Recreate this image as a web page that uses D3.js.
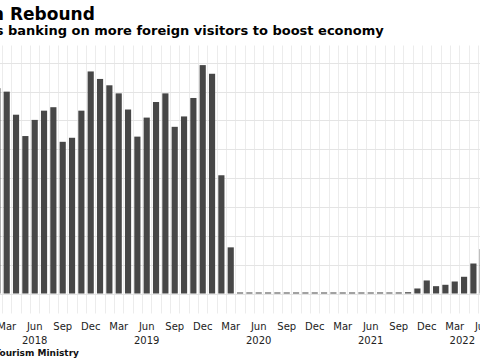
<!DOCTYPE html>
<html><head><meta charset="utf-8">
<script src="https://cdn.jsdelivr.net/npm/d3@7"></script>
<style>body{margin:0;background:#fff;overflow:hidden}svg{display:block}</style>
</head><body>
<svg id="c" width="480" height="360"></svg>
<script>
// ---- data (foreign visitor arrivals, millions) ----
const months = [
  "2018-02","2018-03","2018-04","2018-05","2018-06","2018-07","2018-08","2018-09","2018-10","2018-11","2018-12",
  "2019-01","2019-02","2019-03","2019-04","2019-05","2019-06","2019-07","2019-08","2019-09","2019-10","2019-11","2019-12",
  "2020-01","2020-02","2020-03","2020-04","2020-05","2020-06","2020-07","2020-08","2020-09","2020-10","2020-11","2020-12",
  "2021-01","2021-02","2021-03","2021-04","2021-05","2021-06","2021-07","2021-08","2021-09","2021-10","2021-11","2021-12",
  "2022-01","2022-02","2022-03","2022-04","2022-05","2022-06"
];
const visitors = [
  3.56,3.50,3.10,2.73,3.01,3.17,3.23,2.63,2.70,3.17,3.85,
  3.72,3.61,3.47,3.19,2.72,3.05,3.32,3.47,2.89,3.07,3.39,3.96,
  3.81,2.05,0.80,0,0,0,0,0,0,0.001,0.001,0.007,
  0.008,0.007,0.013,0.007,0.007,0.006,0.018,0.016,0.018,0.022,0.087,0.226,
  0.127,0.151,0.208,0.29,0.52,0.77
];
const monthTickNames = {"03":"Mar","06":"Jun","09":"Sep","12":"Dec"};
const yearLabels = ["2018","2019","2020","2021","2022"];
const yTicks = [0,0.5,1,1.5,2,2.5,3,3.5,4];
const titleText = "Tourism Rebound";
const subtitleText = "is banking on more foreign visitors to boost economy";
const sourceText = "Tourism Ministry";

// ---- layout ----
const W = 480, H = 360;
const plotTop = 45.5, baseY = 293.5;
const xLeft = -7.3, xRight = 487.4;
const svg = d3.select("#c");
svg.append("rect").attr("width", W).attr("height", H).attr("fill", "#fff");

const x = d3.scaleBand().domain(months).range([xLeft, xRight]).paddingInner(0.34).paddingOuter(0.17);
const y = d3.scaleLinear().domain([0, 4.3]).range([baseY, plotTop]);
const step = x.step(), bw = x.bandwidth();

// vertical grid (month boundaries)
svg.append("g").selectAll("line").data(months.concat(["end"])).join("line")
  .attr("x1", (d, i) => Math.round(xLeft + i * step) + 0.5)
  .attr("x2", (d, i) => Math.round(xLeft + i * step) + 0.5)
  .attr("y1", plotTop).attr("y2", baseY + 20)
  .attr("stroke", "#ececec").attr("stroke-width", 1);

// horizontal grid
svg.append("g").selectAll("line").data(yTicks).join("line")
  .attr("x1", 0).attr("x2", W)
  .attr("y1", d => Math.round(y(d)) + 0.5).attr("y2", d => Math.round(y(d)) + 0.5)
  .attr("stroke", "#e4e4e4").attr("stroke-width", 1);

// bars
svg.append("g").selectAll("rect").data(months).join("rect")
  .attr("x", d => x(d))
  .attr("width", bw)
  .attr("y", (d, i) => Math.min(y(visitors[i]), baseY - 1))
  .attr("height", (d, i) => Math.max(1, baseY - y(visitors[i])))
  .attr("fill", "#474747");

// month axis
const quarterly = months.filter(m => monthTickNames[m.slice(5)]);
const axis = d3.axisBottom(x).tickValues(quarterly)
  .tickFormat(m => monthTickNames[m.slice(5)])
  .tickSize(0).tickPadding(29);
const gAxis = svg.append("g").attr("transform", `translate(0,${baseY})`).call(axis);
gAxis.select(".domain").remove();
gAxis.selectAll("text").attr("font-family", "DejaVu Sans, Verdana, sans-serif")
  .attr("font-size", 10).attr("fill", "#222");

// year labels under June
const gy = svg.append("g");
yearLabels.forEach(yr => {
  const t = gy.append("text").text(yr)
    .attr("font-family", "DejaVu Sans, Verdana, sans-serif").attr("font-size", 10)
    .attr("fill", "#222").attr("text-anchor", "middle").attr("y", 343.5);
  const w = t.node().getComputedTextLength();
  const cx = x(yr + "-06") + bw / 2;
  t.attr("x", Math.min(cx, W - 5 - w / 2));
});

// titles (cropped at left edge, as in the reference)
function placeText(txt, prefixLen, startX, yPos, size, weight) {
  const t = svg.append("text").text(txt)
    .attr("font-family", "DejaVu Sans, Verdana, sans-serif")
    .attr("font-size", size).attr("font-weight", weight).attr("fill", "#000")
    .attr("x", 0).attr("y", yPos);
  const pre = prefixLen > 0 ? t.node().getSubStringLength(0, prefixLen) : 0;
  t.attr("x", startX - pre);
  return t;
}
placeText(titleText, 8, 10, 20, 17, "bold");
placeText(subtitleText, 3, 8, 34.5, 13, "bold");
placeText(sourceText, 1, -0.5, 355.5, 9, "bold").attr("fill", "#111");
</script>
</body></html>
